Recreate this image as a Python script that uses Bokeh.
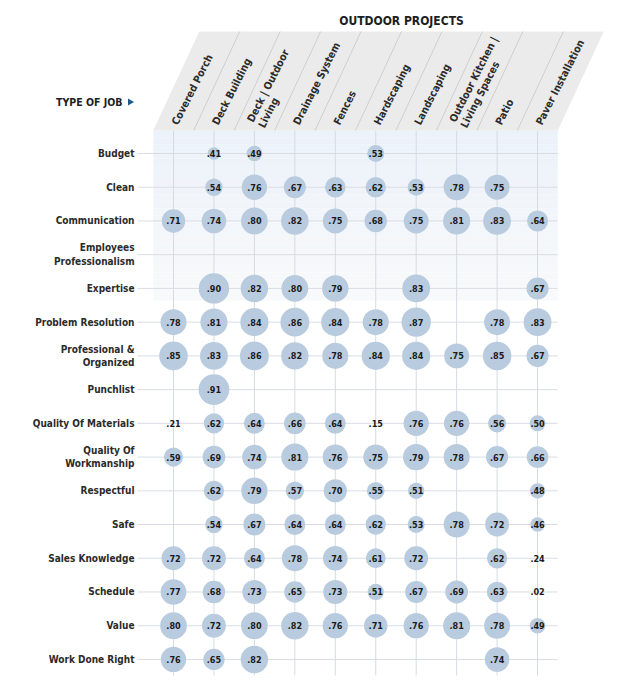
import math
from bokeh.plotting import figure
from bokeh.models import Range1d, ColumnDataSource
from bokeh.core.properties import value
from bokeh.embed import file_html
from bokeh.resources import INLINE

# ---------------- data ----------------
columns = ["Covered Porch", "Deck Building", "Deck | Outdoor\nLiving", "Drainage System",
           "Fences", "Hardscaping", "Landscaping", "Outdoor Kitchen |\nLiving Spaces",
           "Patio", "Paver Installation"]
rows = ["Budget", "Clean", "Communication", "Employees\nProfessionalism", "Expertise",
        "Problem Resolution", "Professional &\nOrganized", "Punchlist",
        "Quality Of Materials", "Quality Of\nWorkmanship", "Respectful", "Safe",
        "Sales Knowledge", "Schedule", "Value", "Work Done Right"]
N = None
budget          = [N, .41, .49, N, N, .53, N, N, N, N]
clean           = [N, .54, .76, .67, .63, .62, .53, .78, .75, N]
communication   = [.71, .74, .80, .82, .75, .68, .75, .81, .83, .64]
employees_prof  = [N, N, N, N, N, N, N, N, N, N]
expertise       = [N, .90, .82, .80, .79, N, .83, N, N, .67]
problem_res     = [.78, .81, .84, .86, .84, .78, .87, N, .78, .83]
professional    = [.85, .83, .86, .82, .78, .84, .84, .75, .85, .67]
punchlist       = [N, .91, N, N, N, N, N, N, N, N]
quality_mat     = [.21, .62, .64, .66, .64, .15, .76, .76, .56, .50]
quality_work    = [.59, .69, .74, .81, .76, .75, .79, .78, .67, .66]
respectful      = [N, .62, .79, .57, .70, .55, .51, N, N, .48]
safe            = [N, .54, .67, .64, .64, .62, .53, .78, .72, .46]
sales_knowledge = [.72, .72, .64, .78, .74, .61, .72, N, .62, .24]
schedule        = [.77, .68, .73, .65, .73, .51, .67, .69, .63, .02]
value_row       = [.80, .72, .80, .82, .76, .71, .76, .81, .78, .49]
work_done_right = [.76, .65, .82, N, N, N, N, N, .74, N]
table = [budget, clean, communication, employees_prof, expertise, problem_res,
         professional, punchlist, quality_mat, quality_work, respectful, safe,
         sales_knowledge, schedule, value_row, work_done_right]
title_text = "OUTDOOR PROJECTS"
type_text = "TYPE OF JOB"

# ---------------- layout helpers (page pixels -> data units) ----------------
W, H, OFF = 624, 677, 0
COL0, COL_W = 173.0, 40.45
ROW0, ROW_H = 153.0, 33.73
def X(px): return (px - COL0) / COL_W
def Y(py): return (py - ROW0) / ROW_H

FONT = "DejaVu Sans Condensed"
ncol, nrow = len(columns), len(rows)
left_e, right_e = -0.5, ncol - 0.5
top_px, bot_px = 130.0, 675.0

p = figure(width=W, height=H, x_range=Range1d(X(OFF), X(OFF + W)),
           y_range=Range1d(Y(OFF + H), Y(OFF)), x_axis_type=None, y_axis_type=None,
           output_backend="svg", toolbar_location=None, min_border=0)
p.grid.visible = False
p.outline_line_color = None
p.background_fill_color = "white"
p.border_fill_color = "white"

# light blue gradient band at top of plot
top_c = (236, 242, 250)
steps = 24
g_top, g_bot = top_px, 300.0
for k in range(steps):
    t = k / steps
    c = tuple(int(round(top_c[i] + (250 - top_c[i]) * t * 0.9)) for i in range(3))
    y0 = g_top + (g_bot - g_top) * k / steps
    y1 = g_top + (g_bot - g_top) * (k + 1) / steps
    p.quad(left=left_e, right=right_e, top=Y(y0), bottom=Y(y1) + 0.001,
           fill_color="#%02x%02x%02x" % c, line_color=None)

# grid lines
p.segment(x0=[X(137)] * nrow, x1=[right_e] * nrow, y0=list(range(nrow)), y1=list(range(nrow)),
          line_color="#d9dde3", line_width=1)
p.segment(x0=list(range(ncol)), x1=list(range(ncol)), y0=[Y(top_px)] * ncol, y1=[Y(bot_px)] * ncol,
          line_color="#d6dbe2", line_width=1)

# header parallelogram
hdr_top_px = 31.0
slant_dx = 46.0 / COL_W
yb, yt = Y(top_px), Y(hdr_top_px)
p.patch(x=[left_e, left_e + slant_dx, right_e + slant_dx, right_e],
        y=[yb, yt, yt, yb], fill_color="#ebebeb", line_color=None)
div_x = [k - 0.5 for k in range(1, ncol)]
p.segment(x0=div_x, x1=[d + slant_dx for d in div_x], y0=[yb] * len(div_x), y1=[yt] * len(div_x),
          line_color="#c6c6c6", line_width=0.8)

# column labels (rotated)
p.text(x=[i + 0.02 for i in range(ncol)], y=[Y(123.5)] * ncol, text=columns,
       angle=math.radians(63), text_align="left", text_baseline="middle",
       text_font=value(FONT), text_font_style="bold", text_font_size="10.5px",
       text_color="#2b2b2b", text_line_height=1.05)

# title
p.text(x=[X(401)], y=[Y(20)], text=[title_text], text_align="center", text_baseline="middle",
       text_font=value(FONT), text_font_style="bold", text_font_size="12px", text_color="#1e1e1e")
p.text(x=[X(122)], y=[Y(101.5)], text=[type_text], text_align="right", text_baseline="middle",
       text_font=value(FONT), text_font_style="bold", text_font_size="10.5px", text_color="#1e1e1e")
p.scatter(x=[X(129.5)], y=[Y(101.5)], marker="triangle", angle=-math.pi / 2, size=7,
          fill_color="#1f5a8c", line_color=None)

# row labels
p.text(x=[X(134)] * nrow, y=list(range(nrow)), text=rows, text_align="right",
       text_baseline="middle", text_font=value(FONT), text_font_style="bold",
       text_font_size="10px", text_color="#2b2b2b", text_line_height=1.25)

# bubbles
xs, ys, vals, sizes, labels = [], [], [], [], []
for j, rv in enumerate(table):
    for i, v in enumerate(rv):
        if v is None:
            continue
        xs.append(i); ys.append(j); vals.append(v)
        sizes.append(36 * (v - 0.057) if v >= 0.3 else 0)
        labels.append(".%02d" % round(v * 100))
src = ColumnDataSource(dict(x=xs, y=ys, v=vals, size=sizes, label=labels))
p.scatter(x="x", y="y", size="size", source=src, marker="circle",
          fill_color="#b9cbde", line_color=None)
p.text(x="x", y="y", text="label", source=src, text_align="center", text_baseline="middle",
       text_font=value(FONT), text_font_style="bold", text_font_size="9px", text_color="#1a1a1a")

open("out.html", "w").write(file_html(p, INLINE))
